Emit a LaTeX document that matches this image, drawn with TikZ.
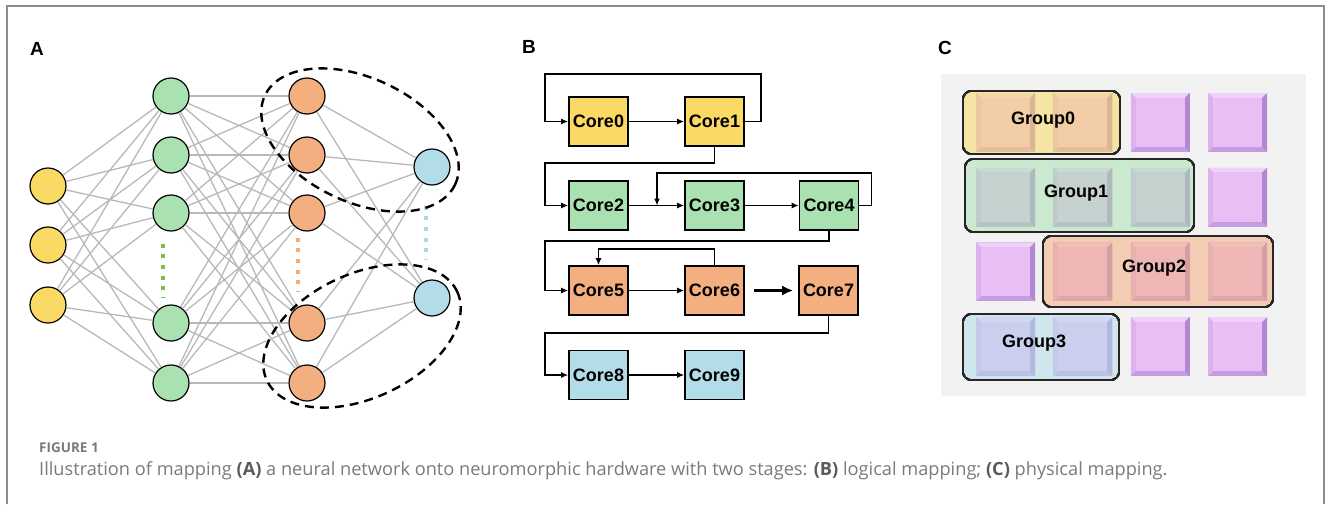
\documentclass[tikz,border=0pt]{standalone}
\usepackage{fontspec}
\usetikzlibrary{arrows.meta}
\newfontfamily\labelfont{Liberation Sans}
\newfontfamily\captionfont{Open Sans}
\definecolor{frameline}{HTML}{8C8C8C}
\definecolor{neuronyellow}{HTML}{FAD964}
\definecolor{neurongreen}{HTML}{A9E2B0}
\definecolor{neuronorange}{HTML}{F3AF7F}
\definecolor{neuronblue}{HTML}{B2DDE8}
\definecolor{synapse}{HTML}{B8B8B8}
\definecolor{dotgreen}{HTML}{7CC242}
\definecolor{dotorange}{HTML}{F5AA7C}
\definecolor{dotblue}{HTML}{A9D9E8}
\definecolor{chipbg}{HTML}{F2F2F2}
\definecolor{tileface}{HTML}{E8BEF4}
\definecolor{tiletop}{HTML}{F0D2F9}
\definecolor{tileleft}{HTML}{DDB0EE}
\definecolor{tileright}{HTML}{B188D2}
\definecolor{tilebottom}{HTML}{C69CE0}
\definecolor{capgray}{HTML}{7A7A7A}
\definecolor{capdark}{HTML}{5A5A5A}
% #1,#2: top left corner, #3: group colour laid over it, #4: its share
\newcommand{\bevtile}[4]{%
  \fill[#3!#4!tilebottom] (#1,#2) rectangle ++(59,59);
  \fill[#3!#4!tiletop] (#1,#2) -- ++(59,0) -- ++(-5,5) -- ++(-49,0) -- cycle;
  \fill[#3!#4!tileleft] (#1,#2) -- ++(5,5) -- ++(0,49) -- ++(-5,5) -- cycle;
  \fill[#3!#4!tileright] (#1+59,#2) -- ++(0,59) -- ++(-5,-5) -- ++(0,-49) -- cycle;
  \fill[#3!#4!tileface] (#1+5,#2+5) rectangle ++(49,49);
}
\tikzset{
  neuron/.style={circle, draw=black, line width=1.2pt, minimum size=36pt, inner sep=0pt},
  syn/.style={synapse, line width=1.3pt},
  hull/.style={line width=2.4pt, dash pattern=on 9pt off 6pt},
  corebox/.style={draw=black, line width=1.6pt, minimum width=59pt, minimum height=49pt, inner sep=0pt,
    font=\labelfont\bfseries\fontsize{18}{18}\selectfont},
  flow/.style={line width=1.6pt, -{Latex[length=7pt,width=6pt]}},
  bigflow/.style={line width=3pt, -{Latex[length=11pt,width=10pt]}},
  grp/.style={rounded corners=9pt, inner sep=0pt},
  grpline/.style={draw=black!85, line width=1.5pt, rounded corners=9pt},
  grplabel/.style={font=\labelfont\bfseries\fontsize{18}{18}\selectfont, inner sep=0pt},
  panel/.style={font=\labelfont\bfseries\fontsize{19}{19}\selectfont, inner sep=0pt}
}
\begin{document}
\begin{tikzpicture}[x=1pt,y=-1pt]
\useasboundingbox (0,0) rectangle (1330,504);
\draw[frameline, line width=2pt] (7,504) -- (7,6) -- (1324,6) -- (1324,504);

\node[panel] (labA) at (37,49) {A};
\node[panel] (labB) at (529,47) {B};
\node[panel] (labC) at (945,48) {C};

\foreach \y [count=\k] in {186,245,305}
  \node[neuron, fill=neuronyellow] (in\k) at (48,\y) {};
\foreach \y [count=\k] in {96,155,213,323,383} {
  \node[neuron, fill=neurongreen] (h\k) at (171,\y) {};
  \node[neuron, fill=neuronorange] (o\k) at (307,\y) {};
}
\node[neuron, fill=neuronblue] (out1) at (432,167) {};
\node[neuron, fill=neuronblue] (out2) at (432,298) {};
\foreach \i in {1,2,3}
  \foreach \j in {1,...,5}
    \draw[syn] (in\i) -- (h\j);
\foreach \i in {1,...,5}
  \foreach \j in {1,...,5}
    \draw[syn] (h\i) -- (o\j);
\foreach \i in {1,...,5} {
  \draw[syn] (o\i) -- (out1);
  \draw[syn] (o\i) -- (out2);
}
\draw[dotgreen, line width=4pt, dash pattern=on 4pt off 6.7pt, shorten <=12pt, shorten >=7pt]
  ([xshift=-8pt]h3.south) -- ([xshift=-8pt]h4.north);
\draw[dotorange, line width=4pt, dash pattern=on 4pt off 6.7pt, shorten <=6pt, shorten >=13pt]
  ([xshift=-9pt]o3.south) -- ([xshift=-9pt]o4.north);
\draw[dotblue, line width=4pt, dash pattern=on 4pt off 6.7pt, shorten <=20pt, shorten >=20pt]
  ([xshift=-6pt]out1.south) -- ([xshift=-6pt]out2.north);
\draw[hull, rotate around={-25:(360,140)}] (360,140) ellipse [x radius=105, y radius=62];
\draw[hull, rotate around={25:(362,336)}] (362,336) ellipse [x radius=105, y radius=62];

\node[corebox, fill=neuronyellow] (core0) at (598.5,121.5) {Core0};
\node[corebox, fill=neuronyellow] (core1) at (714.5,121.5) {Core1};
\node[corebox, fill=neurongreen] (core2) at (598.5,205.5) {Core2};
\node[corebox, fill=neurongreen] (core3) at (714.5,205.5) {Core3};
\node[corebox, fill=neurongreen] (core4) at (829,205.5) {Core4};
\node[corebox, fill=neuronorange] (core5) at (598.5,290.5) {Core5};
\node[corebox, fill=neuronorange] (core6) at (714.5,290.5) {Core6};
\node[corebox, fill=neuronorange] (core7) at (828.5,290.5) {Core7};
\node[corebox, fill=neuronblue] (core8) at (598.5,375) {Core8};
\node[corebox, fill=neuronblue] (core9) at (714.5,375) {Core9};
\coordinate (join) at (657,205.5);
\draw[flow] (core0) -- (core1);
\draw[flow] (core1.east) -- ++(16,0) |- (545,74) |- (core0.west);
\draw[flow] (core1.south) |- (545,163) |- (core2.west);
\draw[flow] (core2) -- (core3);
\draw[flow] (core3) -- (core4);
\draw[flow] (core4.east) -- ++(12,0) |- (657,173) -- (join);
\draw[flow] (core4.south) |- (545,241) |- (core5.west);
\draw[flow] (core5) -- (core6);
\draw[flow] (core6.north) -- ++(0,-16) -| (core5.north);
\draw[bigflow, shorten <=9pt, shorten >=5pt] (core6) -- (core7);
\draw[flow] (core7.south) |- (545,333) |- (core8.west);
\draw[flow] (core8) -- (core9);

\fill[chipbg] (941,74) rectangle (1306,396);
\node[grp, fill=neuronyellow!55!chipbg, minimum width=157pt, minimum height=63pt] (group0) at (1041.5,122.5) {};
\node[grp, fill=neurongreen!55!chipbg, minimum width=229pt, minimum height=73pt] (group1) at (1079.5,195.5) {};
\node[grp, fill=neuronorange!55!chipbg, minimum width=230pt, minimum height=71pt] (group2) at (1158,271.5) {};
\node[grp, fill=neuronblue!55!chipbg, minimum width=156pt, minimum height=66pt] (group3) at (1041,347) {};
\foreach \i/\j/\c/\p in {0/0/neuronyellow/55, 1/0/neuronyellow/55, 2/0/white/0, 3/0/white/0,
    0/1/neurongreen/55, 1/1/neurongreen/55, 2/1/neurongreen/55, 3/1/white/0,
    0/2/white/0, 1/2/neuronorange/55, 2/2/neuronorange/55, 3/2/neuronorange/55,
    0/3/neuronblue/55, 1/3/neuronblue/55, 2/3/white/0, 3/3/white/0}
  \bevtile{976+77.4*\i}{93+74.7*\j}{\c}{\p}
\foreach \g in {0,...,3}
  \draw[grpline] (group\g.north west) rectangle (group\g.south east);
\node[grplabel] (name0) at (1043,120) {Group0};
\node[grplabel] (name1) at (1076,193) {Group1};
\node[grplabel] (name2) at (1154,268) {Group2};
\node[grplabel] (name3) at (1034,343) {Group3};

\node[anchor=base west, inner sep=0pt, text=capgray, font=\captionfont\bfseries\fontsize{13.5}{13.5}\selectfont]
  (fig) at (39,452) {FIGURE 1};
\node[anchor=base west, inner sep=0pt, text=capgray, font=\captionfont\fontsize{18.2}{18.2}\selectfont]
  (cap) at (39,475) {Illustration of mapping \textbf{\color{capdark}(A)} a neural network onto neuromorphic hardware with two stages: \textbf{\color{capdark}(B)} logical mapping; \textbf{\color{capdark}(C)} physical mapping.};
\end{tikzpicture}
\end{document}
